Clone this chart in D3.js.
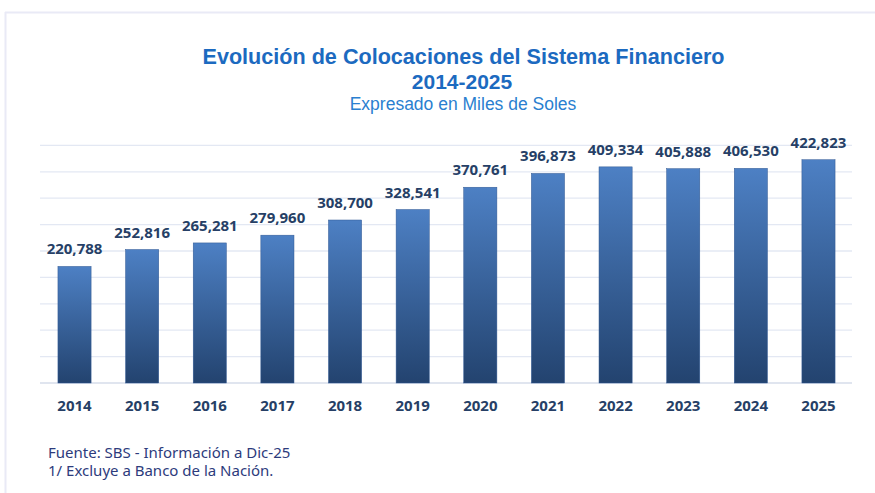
<!DOCTYPE html>
<html>
<head>
<meta charset="utf-8">
<script src="https://cdn.jsdelivr.net/npm/d3@7"></script>
<style>
  body { margin: 0; background: #fff; }
  svg { display: block; }
</style>
</head>
<body>
<svg id="chart"></svg>
<script>
// datos
var years = ["2014", "2015", "2016", "2017", "2018", "2019", "2020", "2021", "2022", "2023", "2024", "2025"];
var values = [220788, 252816, 265281, 279960, 308700, 328541, 370761, 396873, 409334, 405888, 406530, 422823];
var gridTicks = [0, 50000, 100000, 150000, 200000, 250000, 300000, 350000, 400000, 450000];
var titleLines = ["Evolución de Colocaciones del Sistema Financiero", "2014-2025"];
var subtitle = "Expresado en Miles de Soles";
var notes = ["Fuente: SBS - Información a Dic-25", "1/ Excluye a Banco de la Nación."];

var width = 875, height = 493;
var svg = d3.select("#chart")
  .attr("width", width)
  .attr("height", height);

// marco claro
svg.append("line").attr("x1", 5).attr("x2", width).attr("y1", 12.5).attr("y2", 12.5)
  .attr("stroke", "#e9eaf6").attr("stroke-width", 2);
svg.append("line").attr("x1", 5.5).attr("x2", 5.5).attr("y1", 12).attr("y2", height)
  .attr("stroke", "#e9eaf6").attr("stroke-width", 2);

var defs = svg.append("defs");
var grad = defs.append("linearGradient")
  .attr("id", "barGrad")
  .attr("x1", 0).attr("y1", 0).attr("x2", 0).attr("y2", 1);
grad.append("stop").attr("offset", "0%").attr("stop-color", "#4d80c4");
grad.append("stop").attr("offset", "100%").attr("stop-color", "#23436f");

var x = d3.scaleBand()
  .domain(years)
  .range([40.7, 852.3])
  .paddingInner(0.51)
  .paddingOuter(0.255);

var y = d3.scaleLinear()
  .domain([0, 450000])
  .range([383, 145.4]);

var graph = svg.append("g");

// lineas de cuadricula
graph.selectAll("line.grid")
  .data(gridTicks)
  .enter()
  .append("line")
  .attr("class", "grid")
  .attr("x1", 40)
  .attr("x2", 852)
  .attr("y1", d => y(d))
  .attr("y2", d => y(d))
  .attr("stroke", d => d === 0 ? "#d6dcea" : "#e3e8f3")
  .attr("stroke-width", 1.3);

graph.selectAll("rect.bar")
  .data(values)
  .enter()
  .append("rect")
  .attr("class", "bar")
  .attr("x", (d, i) => x(years[i]))
  .attr("y", d => y(d))
  .attr("width", x.bandwidth())
  .attr("height", d => y(0) - y(d))
  .attr("fill", "url(#barGrad)")
  .attr("stroke", "#2f5792")
  .attr("stroke-width", 0.5);

var fmt = d3.format(",");
graph.selectAll("text.val")
  .data(values)
  .enter()
  .append("text")
  .attr("class", "val")
  .attr("x", (d, i) => x(years[i]) + x.bandwidth() / 2)
  .attr("y", d => y(d) - 12)
  .attr("text-anchor", "middle")
  .attr("font-family", "'Open Sans', sans-serif")
  .attr("font-weight", 700)
  .attr("font-size", "15px")
  .attr("fill", "#263f66")
  .text(d => fmt(d));

var xAxis = d3.axisBottom(x).tickSize(0).tickPadding(17);
var xAxisGroup = graph.append("g")
  .attr("transform", "translate(0, 383)")
  .call(xAxis);
xAxisGroup.select(".domain").remove();
xAxisGroup.selectAll("text")
  .attr("font-family", "'Open Sans', sans-serif")
  .attr("font-weight", 700)
  .attr("font-size", "15px")
  .attr("fill", "#263f66");

// titulos
svg.append("text")
  .attr("x", 463.5).attr("y", 63.5)
  .attr("text-anchor", "middle")
  .attr("font-family", "'Liberation Sans', Arial, sans-serif")
  .attr("font-weight", 700)
  .attr("font-size", "21.6px")
  .attr("fill", "#1c6ac0")
  .text(titleLines[0]);
svg.append("text")
  .attr("x", 462).attr("y", 88.5)
  .attr("text-anchor", "middle")
  .attr("font-family", "'Liberation Sans', Arial, sans-serif")
  .attr("font-weight", 700)
  .attr("font-size", "21px")
  .attr("fill", "#1c6ac0")
  .text(titleLines[1]);
svg.append("text")
  .attr("x", 463).attr("y", 110)
  .attr("text-anchor", "middle")
  .attr("font-family", "'Liberation Sans', Arial, sans-serif")
  .attr("font-size", "17.5px")
  .attr("fill", "#2a7fd0")
  .text(subtitle);

svg.selectAll("text.note")
  .data(notes)
  .enter()
  .append("text")
  .attr("class", "note")
  .attr("x", 48)
  .attr("y", (d, i) => 457.5 + i * 18.5)
  .attr("font-family", "'Noto Sans', sans-serif")
  .attr("font-size", "15px")
  .attr("fill", "#2d3b7c")
  .text(d => d);
</script>
</body>
</html>
